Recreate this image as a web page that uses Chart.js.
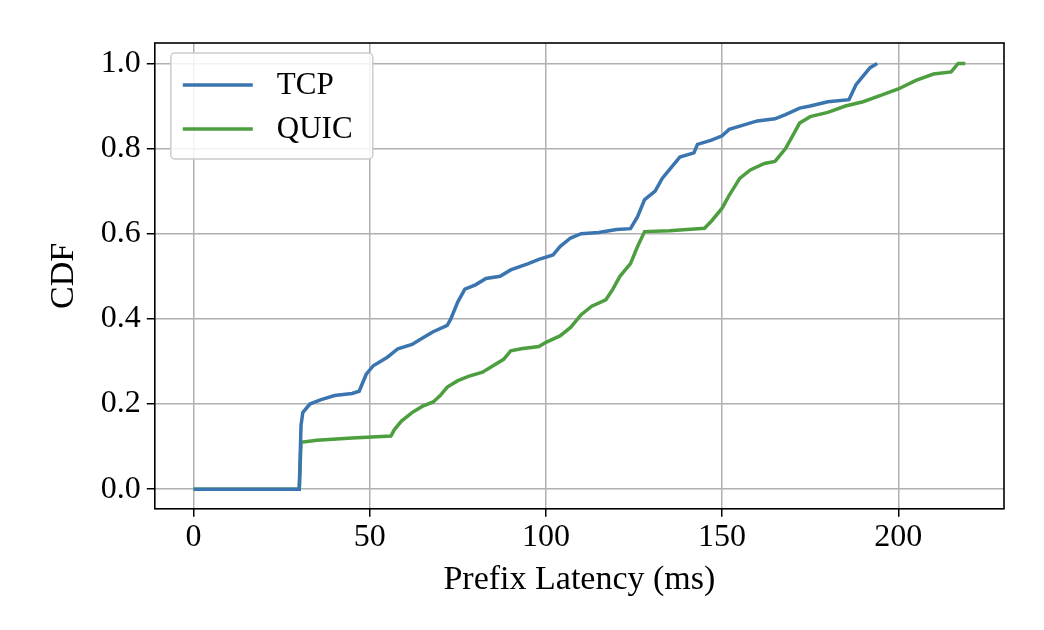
<!DOCTYPE html>
<html><head><meta charset="utf-8">
<script src="https://cdn.jsdelivr.net/npm/chart.js@4"></script>
<style>html,body{margin:0;background:#fff}#w{width:1044px;height:630px}</style>
</head><body><div id="w"><canvas id="c"></canvas></div>
<script>
const seriesNames = ["TCP", "QUIC"];
const tcpX = [0,30,30.5,31,33,36,40,45,47,49,51,55,58,62,65,68,72,73,75,77,80,83,87,90,95,98,102,104,107,110,115,120,124,126,128,131,133,136,138,142,143,147,150,152,156,160,165,168,172,175,180,186,188,190,192,194];
const tcpY = [0,0,0.15,0.18,0.2,0.21,0.22,0.225,0.23,0.27,0.29,0.31,0.33,0.34,0.355,0.37,0.385,0.4,0.44,0.47,0.48,0.495,0.5,0.515,0.53,0.54,0.55,0.57,0.59,0.6,0.603,0.61,0.612,0.64,0.68,0.7,0.73,0.76,0.78,0.79,0.81,0.82,0.83,0.845,0.855,0.865,0.87,0.88,0.895,0.9,0.91,0.915,0.95,0.97,0.99,1.0];
const quicX = [0,30,30.5,35,45,56,57,59,62,65,68,70,72,75,78,82,85,88,90,93,98,100,104,107,110,113,117,119,121,124,126,128,135,145,147,150,152,155,158,162,165,168,170,172,175,180,185,190,195,200,205,210,215,217,219];
const quicY = [0,0,0.11,0.115,0.12,0.125,0.14,0.16,0.18,0.195,0.205,0.22,0.24,0.255,0.265,0.275,0.29,0.305,0.325,0.33,0.335,0.345,0.36,0.38,0.41,0.43,0.445,0.47,0.5,0.53,0.57,0.605,0.607,0.613,0.63,0.66,0.69,0.73,0.75,0.765,0.77,0.8,0.83,0.86,0.875,0.885,0.9,0.91,0.925,0.94,0.96,0.975,0.98,1.0,1.0];
const xTicks = [0,50,100,150,200];
const yTicks = [0,0.2,0.4,0.6,0.8,1.0];
const colors = ["#3a75b0", "#4d9e3f"];
const F = "'Liberation Serif', 'DejaVu Serif', serif";

const pts = (xs, ys) => xs.map((x,i)=>({x, y: ys[i]}));
const legendPlugin = {
  id:'inlegend',
  afterDraw(chart){
    const ctx = chart.ctx, a = chart.chartArea;
    const x0 = a.left+16, y0 = a.top+10, w = 202, h = 106;
    ctx.save();
    ctx.fillStyle='rgba(255,255,255,0.85)';
    ctx.strokeStyle='#cccccc'; ctx.lineWidth=1.5;
    ctx.beginPath(); ctx.roundRect(x0,y0,w,h,4); ctx.fill(); ctx.stroke();
    ctx.font = "31px "+F; ctx.textBaseline='middle';
    chart.data.datasets.forEach((d,i)=>{
      const yy = y0+32+i*44;
      ctx.strokeStyle=d.borderColor; ctx.lineWidth=3.5;
      ctx.beginPath(); ctx.moveTo(x0+12,yy); ctx.lineTo(x0+82,yy); ctx.stroke();
      ctx.fillStyle='#000'; ctx.fillText(d.label, x0+106, yy+1);
    });
    ctx.restore();
  }
};
const frame = {id:'frame', afterDatasetsDraw(chart){const c=chart.ctx,a=chart.chartArea;c.save();c.strokeStyle='#000';c.lineWidth=1.6;c.strokeRect(a.left,a.top,a.right-a.left,a.bottom-a.top);c.restore();}};

new Chart(document.getElementById('c'), {
  type:'line',
  data:{datasets:[
    {label:seriesNames[0], data:pts(tcpX,tcpY), borderColor:colors[0], borderWidth:3.5, pointRadius:0, tension:0},
    {label:seriesNames[1], data:pts(quicX,quicY), borderColor:colors[1], borderWidth:3.5, pointRadius:0, tension:0}
  ]},
  options:{
    responsive:true, maintainAspectRatio:false, animation:false,
    layout:{padding:{left:40,right:40,top:43,bottom:26}},
    plugins:{legend:{display:false}, tooltip:{enabled:false}},
    scales:{
      x:{type:'linear', min:-11, max:230,
        afterBuildTicks(s){s.ticks = xTicks.map(v=>({value:v}));},
        grid:{color:'#b0b0b0', lineWidth:1.5, drawTicks:true, tickLength:8, tickColor:'#000'},
        border:{display:false},
        ticks:{color:'#000', font:{family:F,size:32}, padding:2, maxRotation:0},
        title:{display:true, text:'Prefix Latency (ms)', color:'#000', font:{family:F,size:34}, padding:{top:0}}},
      y:{type:'linear', min:-0.046, max:1.048,
        afterBuildTicks(s){s.ticks = yTicks.map(v=>({value:v}));},
        grid:{color:'#b0b0b0', lineWidth:1.5, tickLength:8, tickColor:'#000'},
        border:{display:false},
        ticks:{color:'#000', font:{family:F,size:32}, padding:6, callback:v=>Number(v).toFixed(1)},
        title:{display:true, text:'CDF', color:'#000', font:{family:F,size:34}, padding:{bottom:10}}}
    }
  },
  plugins:[legendPlugin, frame]
});
</script></body></html>
